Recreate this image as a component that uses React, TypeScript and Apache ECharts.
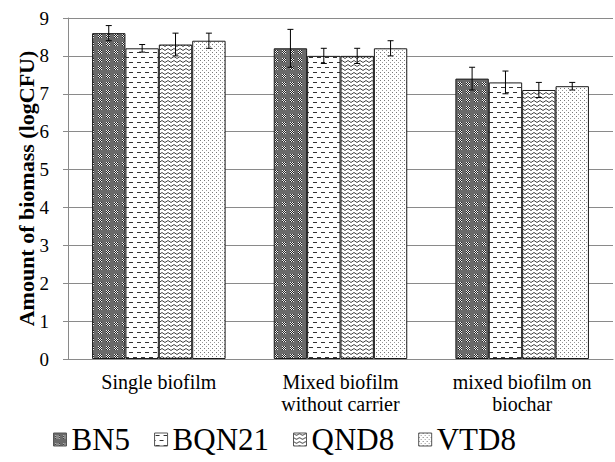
import React, { useEffect, useRef } from "react";
import * as echarts from "echarts";

const categories = ["Single biofilm", "Mixed biofilm\nwithout carrier", "mixed biofilm on\nbiochar"];
const seriesNames = ["BN5", "BQN21", "QND8", "VTD8"];
const bn5 = [8.6, 8.2, 7.4];
const bqn21 = [8.2, 8.0, 7.3];
const qnd8 = [8.3, 8.0, 7.1];
const vtd8 = [8.4, 8.2, 7.2];
const bn5Err = [0.2, 0.5, 0.3];
const bqn21Err = [0.1, 0.2, 0.3];
const qnd8Err = [0.3, 0.2, 0.2];
const vtd8Err = [0.2, 0.2, 0.1];

const FONT = "Liberation Serif, Times New Roman, serif";
const GAP = 0.265;

function makeTile(kind: number) {
  const c = document.createElement("canvas");
  let w = 8, h = 8;
  if (kind === 1) { w = 8; h = 10; }
  if (kind === 2) { w = 6; h = 4; }
  if (kind === 3) { w = 4; h = 4; }
  c.width = w; c.height = h;
  const ctx = c.getContext("2d")!;
  if (kind === 0) {
    ctx.fillStyle = "#6a6a6a";
    ctx.fillRect(0, 0, w, h);
    for (let y = 0; y < 4; y++) {
      for (let x = 0; x < 4; x++) {
        ctx.fillStyle = (x + y) % 2 === 0 ? "#f0f0f0" : "#202020";
        ctx.fillRect(2 + x, 2 + y, 1, 1);
      }
    }
  } else if (kind === 1) {
    ctx.fillStyle = "#ffffff";
    ctx.fillRect(0, 0, w, h);
    ctx.fillStyle = "#333333";
    ctx.fillRect(1, 2, 4, 1);
    ctx.fillRect(5, 7, 3, 1);
    ctx.fillRect(0, 7, 1, 1);
  } else if (kind === 2) {
    ctx.fillStyle = "#ffffff";
    ctx.fillRect(0, 0, w, h);
    ctx.strokeStyle = "#444444";
    ctx.lineWidth = 1;
    ctx.beginPath();
    ctx.moveTo(0, 0.5);
    ctx.lineTo(3, 2.5);
    ctx.lineTo(6, 0.5);
    ctx.stroke();
  } else {
    ctx.fillStyle = "#ffffff";
    ctx.fillRect(0, 0, w, h);
    ctx.fillStyle = "#777777";
    ctx.fillRect(0, 0, 1, 1);
    ctx.fillStyle = "#999999";
    ctx.fillRect(2, 2, 1, 1);
  }
  return { image: c.toDataURL(), repeat: "repeat", imageWidth: w, imageHeight: h };
}

export default function App() {
  const ref = useRef<HTMLDivElement>(null);
  useEffect(() => {
    if (!ref.current) return;
    const chart = echarts.init(ref.current, null, { renderer: "svg" });
    const values = [bn5, bqn21, qnd8, vtd8];
    const errs = [bn5Err, bqn21Err, qnd8Err, vtd8Err];
    const barSeries: any[] = values.map((vals, i) => ({
      type: "bar",
      name: seriesNames[i],
      data: vals,
      barGap: "0%",
      barCategoryGap: GAP * 100 + "%",
      itemStyle: { color: makeTile(i) as any, borderColor: "#1a1a1a", borderWidth: 1 },
    }));
    const errSeries: any[] = values.map((vals, i) => ({
      type: "custom",
      name: "err" + i,
      data: vals.map((v, k) => [k, v, errs[i][k]]),
      z: 10,
      renderItem: (params: any, api: any) => {
        const k = api.value(0);
        const v = api.value(1);
        const e = api.value(2);
        const cw = api.size([1, 0])[0];
        const bw = (cw * (1 - GAP)) / 4;
        const base = api.coord([k, v]);
        const x = base[0] + (i - 1.5) * bw;
        const yh = api.coord([k, v + e])[1];
        const yl = api.coord([k, v - e])[1];
        const cap = 3;
        const style = { stroke: "#000", lineWidth: 1 };
        return {
          type: "group",
          children: [
            { type: "line", shape: { x1: x, y1: yh, x2: x, y2: yl }, style },
            { type: "line", shape: { x1: x - cap, y1: yh, x2: x + cap, y2: yh }, style },
            { type: "line", shape: { x1: x - cap, y1: yl, x2: x + cap, y2: yl }, style },
          ],
        };
      },
    }));
    chart.setOption({
      animation: false,
      textStyle: { fontFamily: FONT },
      grid: { left: 68, right: 2, top: 18, bottom: 103, containLabel: false },
      legend: {
        data: seriesNames,
        left: 48,
        top: 419,
        itemWidth: 13,
        itemHeight: 13,
        itemGap: 24,
        icon: "rect",
        itemStyle: { borderColor: "#555", borderWidth: 1 },
        textStyle: { fontSize: 31, fontFamily: FONT, color: "#000" },
      },
      xAxis: {
        type: "category",
        data: categories,
        axisLine: { lineStyle: { color: "#8a8a8a" } },
        axisTick: { length: 5, lineStyle: { color: "#8a8a8a" } },
        axisLabel: { fontSize: 20, lineHeight: 22, color: "#000", fontFamily: FONT, margin: 12, interval: 0 },
      },
      yAxis: {
        type: "value",
        min: 0,
        max: 9,
        interval: 1,
        name: "Amount of biomass (logCFU)",
        nameLocation: "middle",
        nameGap: 31,
        nameMoveOverlap: false,
        nameTextStyle: { fontSize: 22, fontWeight: "bold", color: "#000", fontFamily: FONT },
        axisLine: { show: true, lineStyle: { color: "#8a8a8a" } },
        axisTick: { show: true, length: 5, lineStyle: { color: "#8a8a8a" } },
        axisLabel: { fontSize: 19, color: "#000", fontFamily: FONT, margin: 19 },
        splitLine: { lineStyle: { color: "#8a8a8a" } },
      },
      series: [...barSeries, ...errSeries],
    });
    return () => chart.dispose();
  }, []);
  return <div ref={ref} style={{ width: 615, height: 462, position: "absolute", left: 0, top: 0 }} />;
}
